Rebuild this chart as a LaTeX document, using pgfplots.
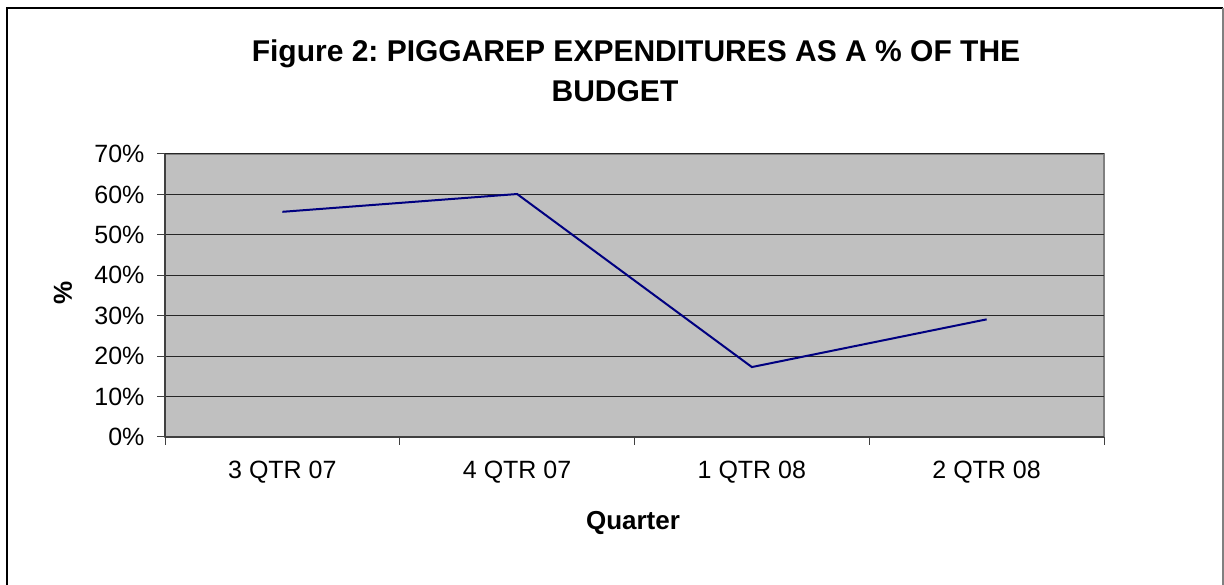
\documentclass[border=0pt]{standalone}
\usepackage{pgfplots}
\pgfplotsset{compat=1.18}
\usepackage{fontspec}
\setmainfont{Liberation Sans}
\frenchspacing
\definecolor{plotgray}{RGB}{192,192,192}
\definecolor{bordergray}{RGB}{128,128,128}
\definecolor{navyline}{RGB}{0,0,128}
\begin{document}
\begin{tikzpicture}[x=1pt,y=1pt]
\path[use as bounding box] (0,0) rectangle (1224,584);
\draw[line width=2.5pt,black] (7,-5) -- (7,576) -- (1223,576);
\draw[line width=1.5pt,bordergray] (1223,576) -- (1223,-5);
\begin{axis}[
  at={(165pt,147pt)}, anchor=south west,
  scale only axis, width=939pt, height=283pt,
  xmin=0.5, xmax=4.5, ymin=0, ymax=70,
  axis x line=bottom, axis y line=left,
  axis line style={-, line width=1.5pt, black!75},
  axis background/.style={fill=plotgray, draw=bordergray, line width=1.5pt},
  xtick={1,2,3,4},
  xticklabels={3 QTR 07,4 QTR 07,1 QTR 08,2 QTR 08},
  minor xtick={0.5,1.5,2.5,3.5,4.5},
  major x tick style={draw=none},
  minor x tick style={line width=1pt, black!75},
  ytick={0,10,...,70},
  yticklabel={\pgfmathprintnumber{\tick}\%},
  tick align=outside,
  major tick length=8pt, minor tick length=8pt,
  y tick style={line width=1pt, black!75},
  ymajorgrids, grid style={line width=1pt, black!85},
  ticklabel style={font=\fontsize{25}{25}\selectfont},
  /pgf/number format/assume math mode=true,
  xticklabel style={yshift=-13pt},
  yticklabel style={xshift=-9pt},
  clip=false,
]
\addplot[navyline, line width=2pt] coordinates {
  (1,55.7) (2,60.1) (3,17.3) (4,29.1)
};
\end{axis}
\node[anchor=base, font=\bfseries\fontsize{30}{30}\selectfont] at (636,522.3) {Figure 2: PIGGAREP EXPENDITURES AS A \% OF THE};
\node[anchor=base, font=\bfseries\fontsize{30}{30}\selectfont] at (615,482.3) {BUDGET};
\node[anchor=base, font=\bfseries\fontsize{26}{26}\selectfont] at (633,55) {Quarter};
\node[rotate=90, font=\bfseries\fontsize{26}{26}\selectfont] at (63,291) {\%};
\end{tikzpicture}
\end{document}
